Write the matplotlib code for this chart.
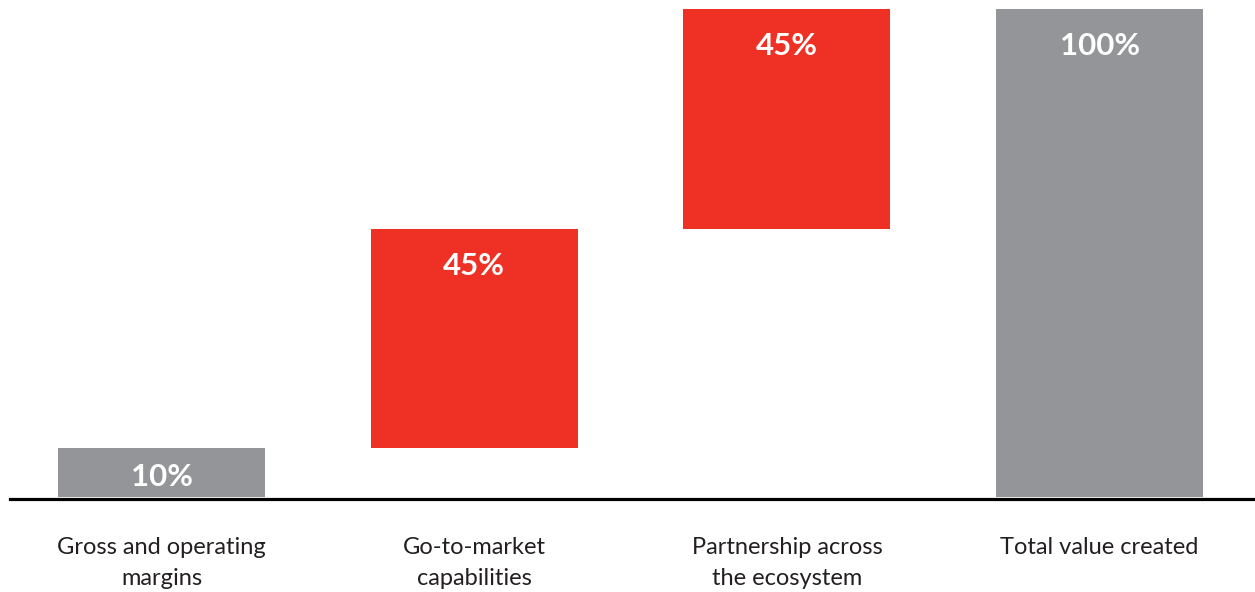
import matplotlib
matplotlib.use("Agg")
import matplotlib.pyplot as plt
from matplotlib.transforms import blended_transform_factory

categories = ["Gross and operating\nmargins", "Go-to-market\ncapabilities",
              "Partnership across\nthe ecosystem", "Total value created"]
values = [10, 45, 45, 100]
labels = ["10%", "45%", "45%", "100%"]
is_total = [False, False, False, True]

GRAY = "#939598"
RED = "#EE3124"
DARK = "#231F20"

W, H = 1255, 592
fig = plt.figure(figsize=(W / 100, H / 100), dpi=100)
ax = fig.add_axes([10 / W, (H - 499) / H, 1 - 10 / W, (499 - 9) / H])

bottoms = []
run = 0
for v, tot in zip(values, is_total):
    if tot:
        bottoms.append(0)
    else:
        bottoms.append(run)
        run += v
colors = [GRAY if (i == 0 or tot) else RED for i, tot in enumerate(is_total)]
xs = list(range(len(values)))
ax.bar(xs, values, bottom=bottoms, width=0.662, color=colors, linewidth=0)

ax.set_xlim(-0.485, 3.497)
ax.set_ylim(-0.41, 100)
for s in ["top", "right", "left"]:
    ax.spines[s].set_visible(False)
ax.spines["bottom"].set_position(("data", -0.41))
ax.spines["bottom"].set_linewidth(2.3)
ax.spines["bottom"].set_color("black")
ax.set_xticks([])
ax.set_yticks([])

for x, v, b, lab in zip(xs, values, bottoms, labels):
    top = b + v
    y = max(top - 7.6, b + v / 2 - 1.0)
    ax.text(x, y, lab, ha="center", va="center", color="white",
            fontsize=22.5, fontweight="bold", family="Lato")

tr = blended_transform_factory(ax.transData, fig.transFigure)
for x, c in zip(xs, categories):
    ax.text(x, 1 - 537 / H, c, transform=tr, ha="center", va="top",
            color=DARK, fontsize=17, family="Lato", linespacing=1.6)

fig.savefig("out.png", dpi=100)
